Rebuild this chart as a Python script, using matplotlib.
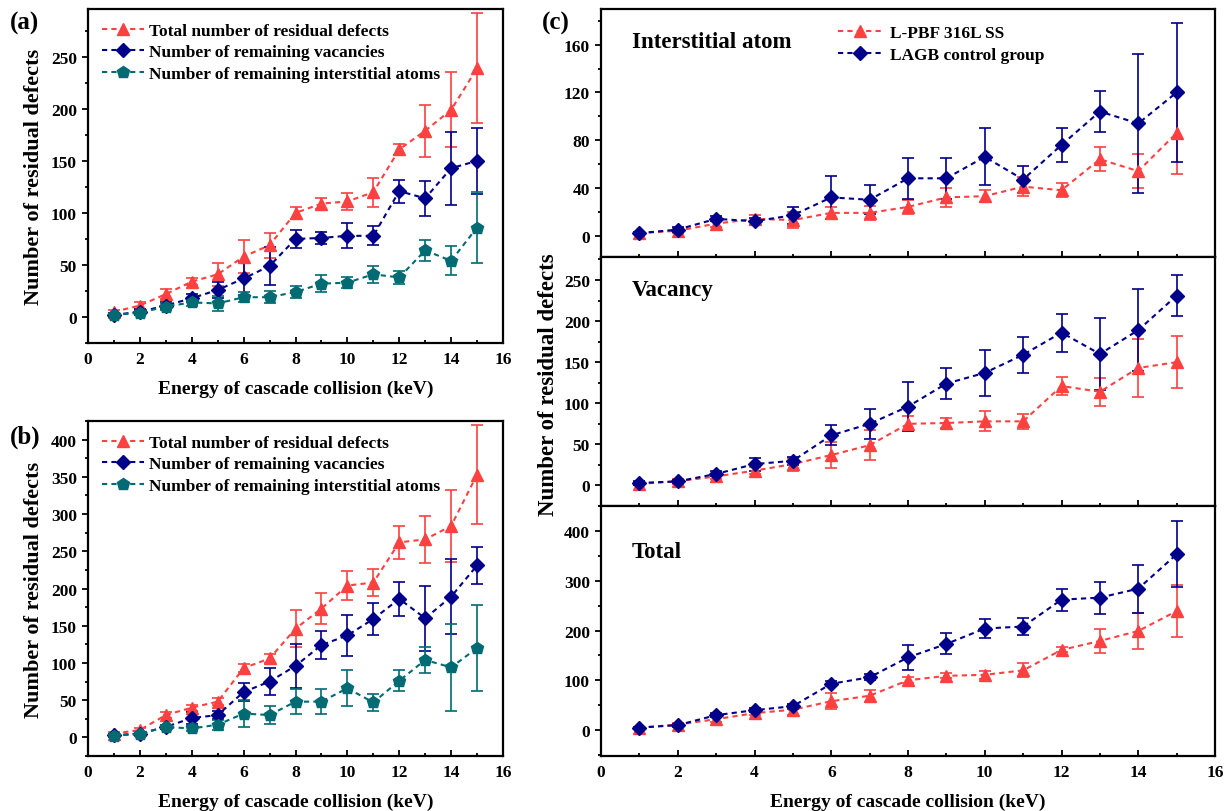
import numpy as np
import matplotlib.pyplot as plt
from matplotlib.ticker import MultipleLocator
from matplotlib.lines import Line2D

plt.rcParams['font.family'] = ['Liberation Serif', 'DejaVu Serif']
plt.rcParams['font.weight'] = 'bold'
plt.rcParams['axes.labelweight'] = 'bold'

# Energie de cascade (keV)
energy = [1, 2, 3, 4, 5, 6, 7, 8, 9, 10, 11, 12, 13, 14, 15]

# L-PBF 316L SS
lpbf_total = [5, 11, 22, 34, 41, 58, 69, 100, 109, 111, 120, 161, 179, 199, 239]
lpbf_total_err = [2, 3, 5, 3, 11, 16, 12, 6, 5, 8, 14, 5, 25, 36, 53]
lpbf_vac = [2, 5, 11, 18, 26, 37, 49, 75, 76, 78, 78, 121, 114, 143, 150]
lpbf_vac_err = [2, 3, 3, 4, 8, 16, 18, 9, 6, 12, 9, 11, 17, 35, 32]
lpbf_int = [2, 4, 10, 14, 13, 19, 19, 24, 32, 33, 41, 38, 64, 54, 86]
lpbf_int_err = [1, 2, 3, 3, 7, 5, 6, 6, 8, 5, 8, 6, 10, 14, 34]

# LAGB control group
lagb_total = [5, 10, 30, 40, 48, 93, 106, 146, 173, 204, 208, 262, 266, 284, 353]
lagb_total_err = [2, 3, 4, 4, 5, 5, 6, 25, 21, 20, 18, 22, 32, 48, 66]
lagb_vac = [3, 5, 14, 26, 30, 61, 75, 96, 124, 137, 159, 186, 160, 189, 231]
lagb_vac_err = [2, 2, 3, 8, 5, 12, 18, 30, 19, 28, 22, 23, 44, 50, 25]
lagb_int = [2, 5, 14, 12, 17, 32, 30, 48, 48, 66, 47, 76, 104, 94, 120]
lagb_int_err = [1, 2, 2, 3, 7, 18, 12, 17, 17, 24, 11, 14, 17, 58, 58]

labels_ab = ["Total number of residual defects",
             "Number of remaining vacancies",
             "Number of remaining interstitial atoms"]
labels_c = ["L-PBF 316L SS", "LAGB control group"]

RED = '#FF4040'
NAVY = '#00008B'
TEAL = '#006B73'
DASH = (0, (2.5, 2))
W, H = 1231, 812


def rect(x0, y0, x1, y1):
    return [x0 / W, 1 - y1 / H, (x1 - x0) / W, (y1 - y0) / H]


def serie(ax, y, err, color, marker, ms):
    ax.errorbar(energy, y, yerr=err, color=color, marker=marker, markersize=ms,
                linestyle=DASH, linewidth=1.5, elinewidth=1.2,
                capsize=4, capthick=1.2)


def poignee(color, marker, ms):
    return Line2D([], [], color=color, marker=marker, markersize=ms,
                  linestyle=DASH, linewidth=1.5)


def style(ax, ymaj, ymin_, ylim, xlabels=True):
    ax.set_xlim(0, 16)
    ax.set_ylim(*ylim)
    ax.xaxis.set_major_locator(MultipleLocator(2))
    ax.xaxis.set_minor_locator(MultipleLocator(1))
    ax.yaxis.set_major_locator(MultipleLocator(ymaj))
    ax.yaxis.set_minor_locator(MultipleLocator(ymin_))
    ax.tick_params(axis='x', which='both', direction='in', labelsize=12.5,
                   labelbottom=xlabels, width=1.3, pad=6)
    ax.tick_params(axis='y', which='both', direction='out', labelsize=12.5, width=1.3)
    ax.tick_params(which='major', length=4.5)
    ax.tick_params(which='minor', length=2.5)
    for s in ax.spines.values():
        s.set_linewidth(1.6)


h_ab = [poignee(RED, '^', 9), poignee(NAVY, 'D', 7), poignee(TEAL, 'p', 9)]
h_c = [poignee(RED, '^', 9), poignee(NAVY, 'D', 7)]

fig = plt.figure(figsize=(12.31, 8.12), dpi=100)

# (a) L-PBF
ax_a = fig.add_axes(rect(88, 10, 503, 344))
serie(ax_a, lpbf_total, lpbf_total_err, RED, '^', 9)
serie(ax_a, lpbf_vac, lpbf_vac_err, NAVY, 'D', 7)
serie(ax_a, lpbf_int, lpbf_int_err, TEAL, 'p', 9)
style(ax_a, 50, 25, (-25, 296))
ax_a.set_xlabel("Energy of cascade collision (keV)", fontsize=14, labelpad=9)
ax_a.set_ylabel("Number of residual defects", fontsize=16, labelpad=5)
ax_a.legend(h_ab, labels_ab, loc='upper left', frameon=False, fontsize=12.5,
            handlelength=2.4, borderaxespad=0.4, labelspacing=0.3, handletextpad=0.3)

# (b) LAGB
ax_b = fig.add_axes(rect(88, 422, 503, 757))
serie(ax_b, lagb_total, lagb_total_err, RED, '^', 9)
serie(ax_b, lagb_vac, lagb_vac_err, NAVY, 'D', 7)
serie(ax_b, lagb_int, lagb_int_err, TEAL, 'p', 9)
style(ax_b, 50, 25, (-25, 425))
ax_b.set_xlabel("Energy of cascade collision (keV)", fontsize=14, labelpad=9)
ax_b.set_ylabel("Number of residual defects", fontsize=16, labelpad=5)
ax_b.legend(h_ab, labels_ab, loc='upper left', frameon=False, fontsize=12.5,
            handlelength=2.4, borderaxespad=0.4, labelspacing=0.3, handletextpad=0.3)

# (c) comparaison
ax_c1 = fig.add_axes(rect(601, 10, 1215, 258))
ax_c2 = fig.add_axes(rect(601, 258, 1215, 507))
ax_c3 = fig.add_axes(rect(601, 507, 1215, 757))

serie(ax_c1, lpbf_int, lpbf_int_err, RED, '^', 9)
serie(ax_c1, lagb_int, lagb_int_err, NAVY, 'D', 7)
style(ax_c1, 40, 20, (-18, 190), xlabels=False)
ax_c1.text(0.05, 0.87, "Interstitial atom", transform=ax_c1.transAxes,
           fontsize=16.5, va='center')
ax_c1.legend(h_c, labels_c, loc='upper left', bbox_to_anchor=(0.36, 1.0), frameon=False,
             fontsize=12.5, handlelength=2.6, labelspacing=0.35, handletextpad=0.4)

serie(ax_c2, lpbf_vac, lpbf_vac_err, RED, '^', 9)
serie(ax_c2, lagb_vac, lagb_vac_err, NAVY, 'D', 7)
style(ax_c2, 50, 25, (-25, 278), xlabels=False)
ax_c2.text(0.05, 0.87, "Vacancy", transform=ax_c2.transAxes, fontsize=16.5, va='center')

serie(ax_c3, lpbf_total, lpbf_total_err, RED, '^', 9)
serie(ax_c3, lagb_total, lagb_total_err, NAVY, 'D', 7)
style(ax_c3, 100, 50, (-52, 450))
ax_c3.text(0.05, 0.82, "Total", transform=ax_c3.transAxes, fontsize=16.5, va='center')
ax_c3.set_xlabel("Energy of cascade collision (keV)", fontsize=14, labelpad=9)

fig.text(548 / W, 1 - 385 / H, "Number of residual defects", rotation=90,
         fontsize=16.5, ha='center', va='center')

fig.text(10 / W, 1 - 23 / H, "(a)", fontsize=18, va='center')
fig.text(10 / W, 1 - 437 / H, "(b)", fontsize=18, va='center')
fig.text(542 / W, 1 - 23 / H, "(c)", fontsize=18, va='center')

fig.savefig("out.png", dpi=100)
